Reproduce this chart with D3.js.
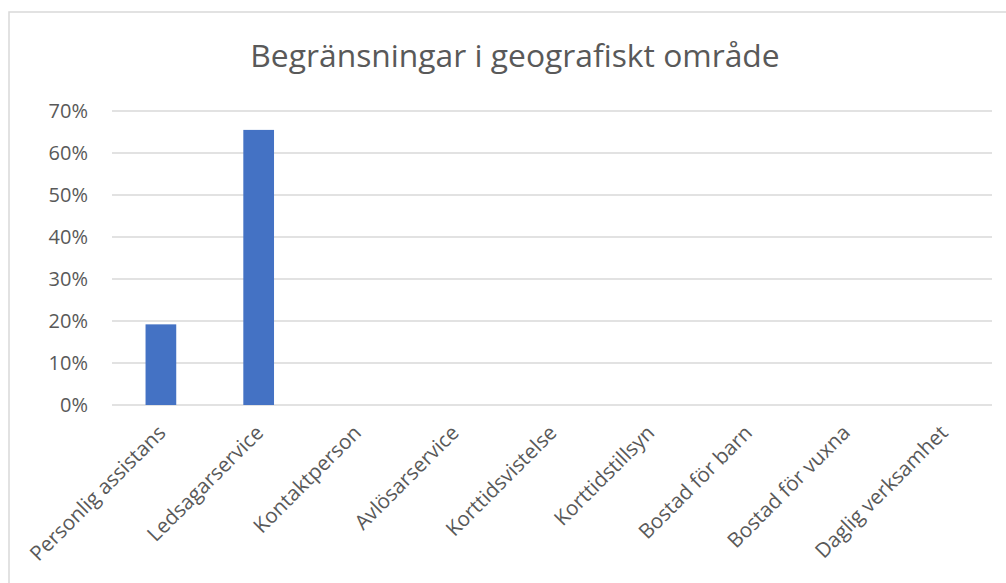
<!DOCTYPE html>
<html>
<head>
<meta charset="utf-8">
<script src="https://cdn.jsdelivr.net/npm/d3@7"></script>
<style>
  html, body { margin: 0; padding: 0; background: #fff; }
  svg { display: block; }
  text { font-family: "Open Sans", sans-serif; fill: #595959; }
</style>
</head>
<body>
<svg id="chart"></svg>
<script>
  // chart data
  var categories = ["Personlig assistans", "Ledsagarservice", "Kontaktperson", "Avlösarservice",
    "Korttidsvistelse", "Korttidstillsyn", "Bostad för barn", "Bostad för vuxna", "Daglig verksamhet"];
  var values = [0.192, 0.655, 0, 0, 0, 0, 0, 0, 0];
  var yTicks = [0, 0.1, 0.2, 0.3, 0.4, 0.5, 0.6, 0.7];
  var title = "Begränsningar i geografiskt område";

  function drawChart() {
    var W = 1006, H = 583;
    var svg = d3.select("#chart").attr("width", W).attr("height", H);

    // chart frame (runs off the right and bottom edge)
    svg.append("rect")
      .attr("x", 9).attr("y", 12)
      .attr("width", 1200).attr("height", 800)
      .attr("fill", "#fff")
      .attr("stroke", "#d9d9d9")
      .attr("stroke-width", 1.5);

    svg.append("text")
      .attr("x", 515).attr("y", 67)
      .attr("text-anchor", "middle")
      .style("font-size", "31.8px")
      .text(title);

    var plotL = 112, plotR = 992, plotT = 111, plotB = 405;

    var x = d3.scaleBand().domain(categories).range([plotL, plotR]).padding(0);
    var y = d3.scaleLinear().domain([0, 0.7]).range([plotB, plotT]);

    // gridlines
    svg.append("g").selectAll("line").data(yTicks).enter()
      .append("line")
      .attr("x1", plotL).attr("x2", plotR)
      .attr("y1", function (d) { return y(d); })
      .attr("y2", function (d) { return y(d); })
      .attr("stroke", "#d9d9d9")
      .attr("stroke-width", 1.3);

    // y axis labels
    var yAxis = svg.append("g")
      .attr("transform", "translate(" + (plotL - 24) + ",0)")
      .call(d3.axisLeft(y).tickValues(yTicks).tickFormat(d3.format(".0%")).tickSize(0).tickPadding(0));
    yAxis.select(".domain").remove();
    yAxis.selectAll("text")
      .style("font-size", "20px")
      .attr("fill", "#595959")
      .attr("font-family", "Open Sans, sans-serif");

    // bars
    var barW = x.bandwidth() * 0.314;
    svg.append("g").selectAll("rect").data(values).enter()
      .append("rect")
      .attr("x", function (d, i) { return x(categories[i]) + x.bandwidth() / 2 - barW / 2; })
      .attr("y", function (d) { return y(d); })
      .attr("width", barW)
      .attr("height", function (d) { return plotB - y(d); })
      .attr("fill", "#4472c4");

    // category labels
    svg.append("g").selectAll("text").data(categories).enter()
      .append("text")
      .attr("text-anchor", "end")
      .attr("transform", function (d) {
        return "translate(" + (x(d) + x.bandwidth() / 2 + 6) + "," + (plotB + 29) + ") rotate(-45)";
      })
      .style("font-size", "20.6px")
      .text(function (d) { return d; });
  }

  drawChart();
</script>
</body>
</html>
